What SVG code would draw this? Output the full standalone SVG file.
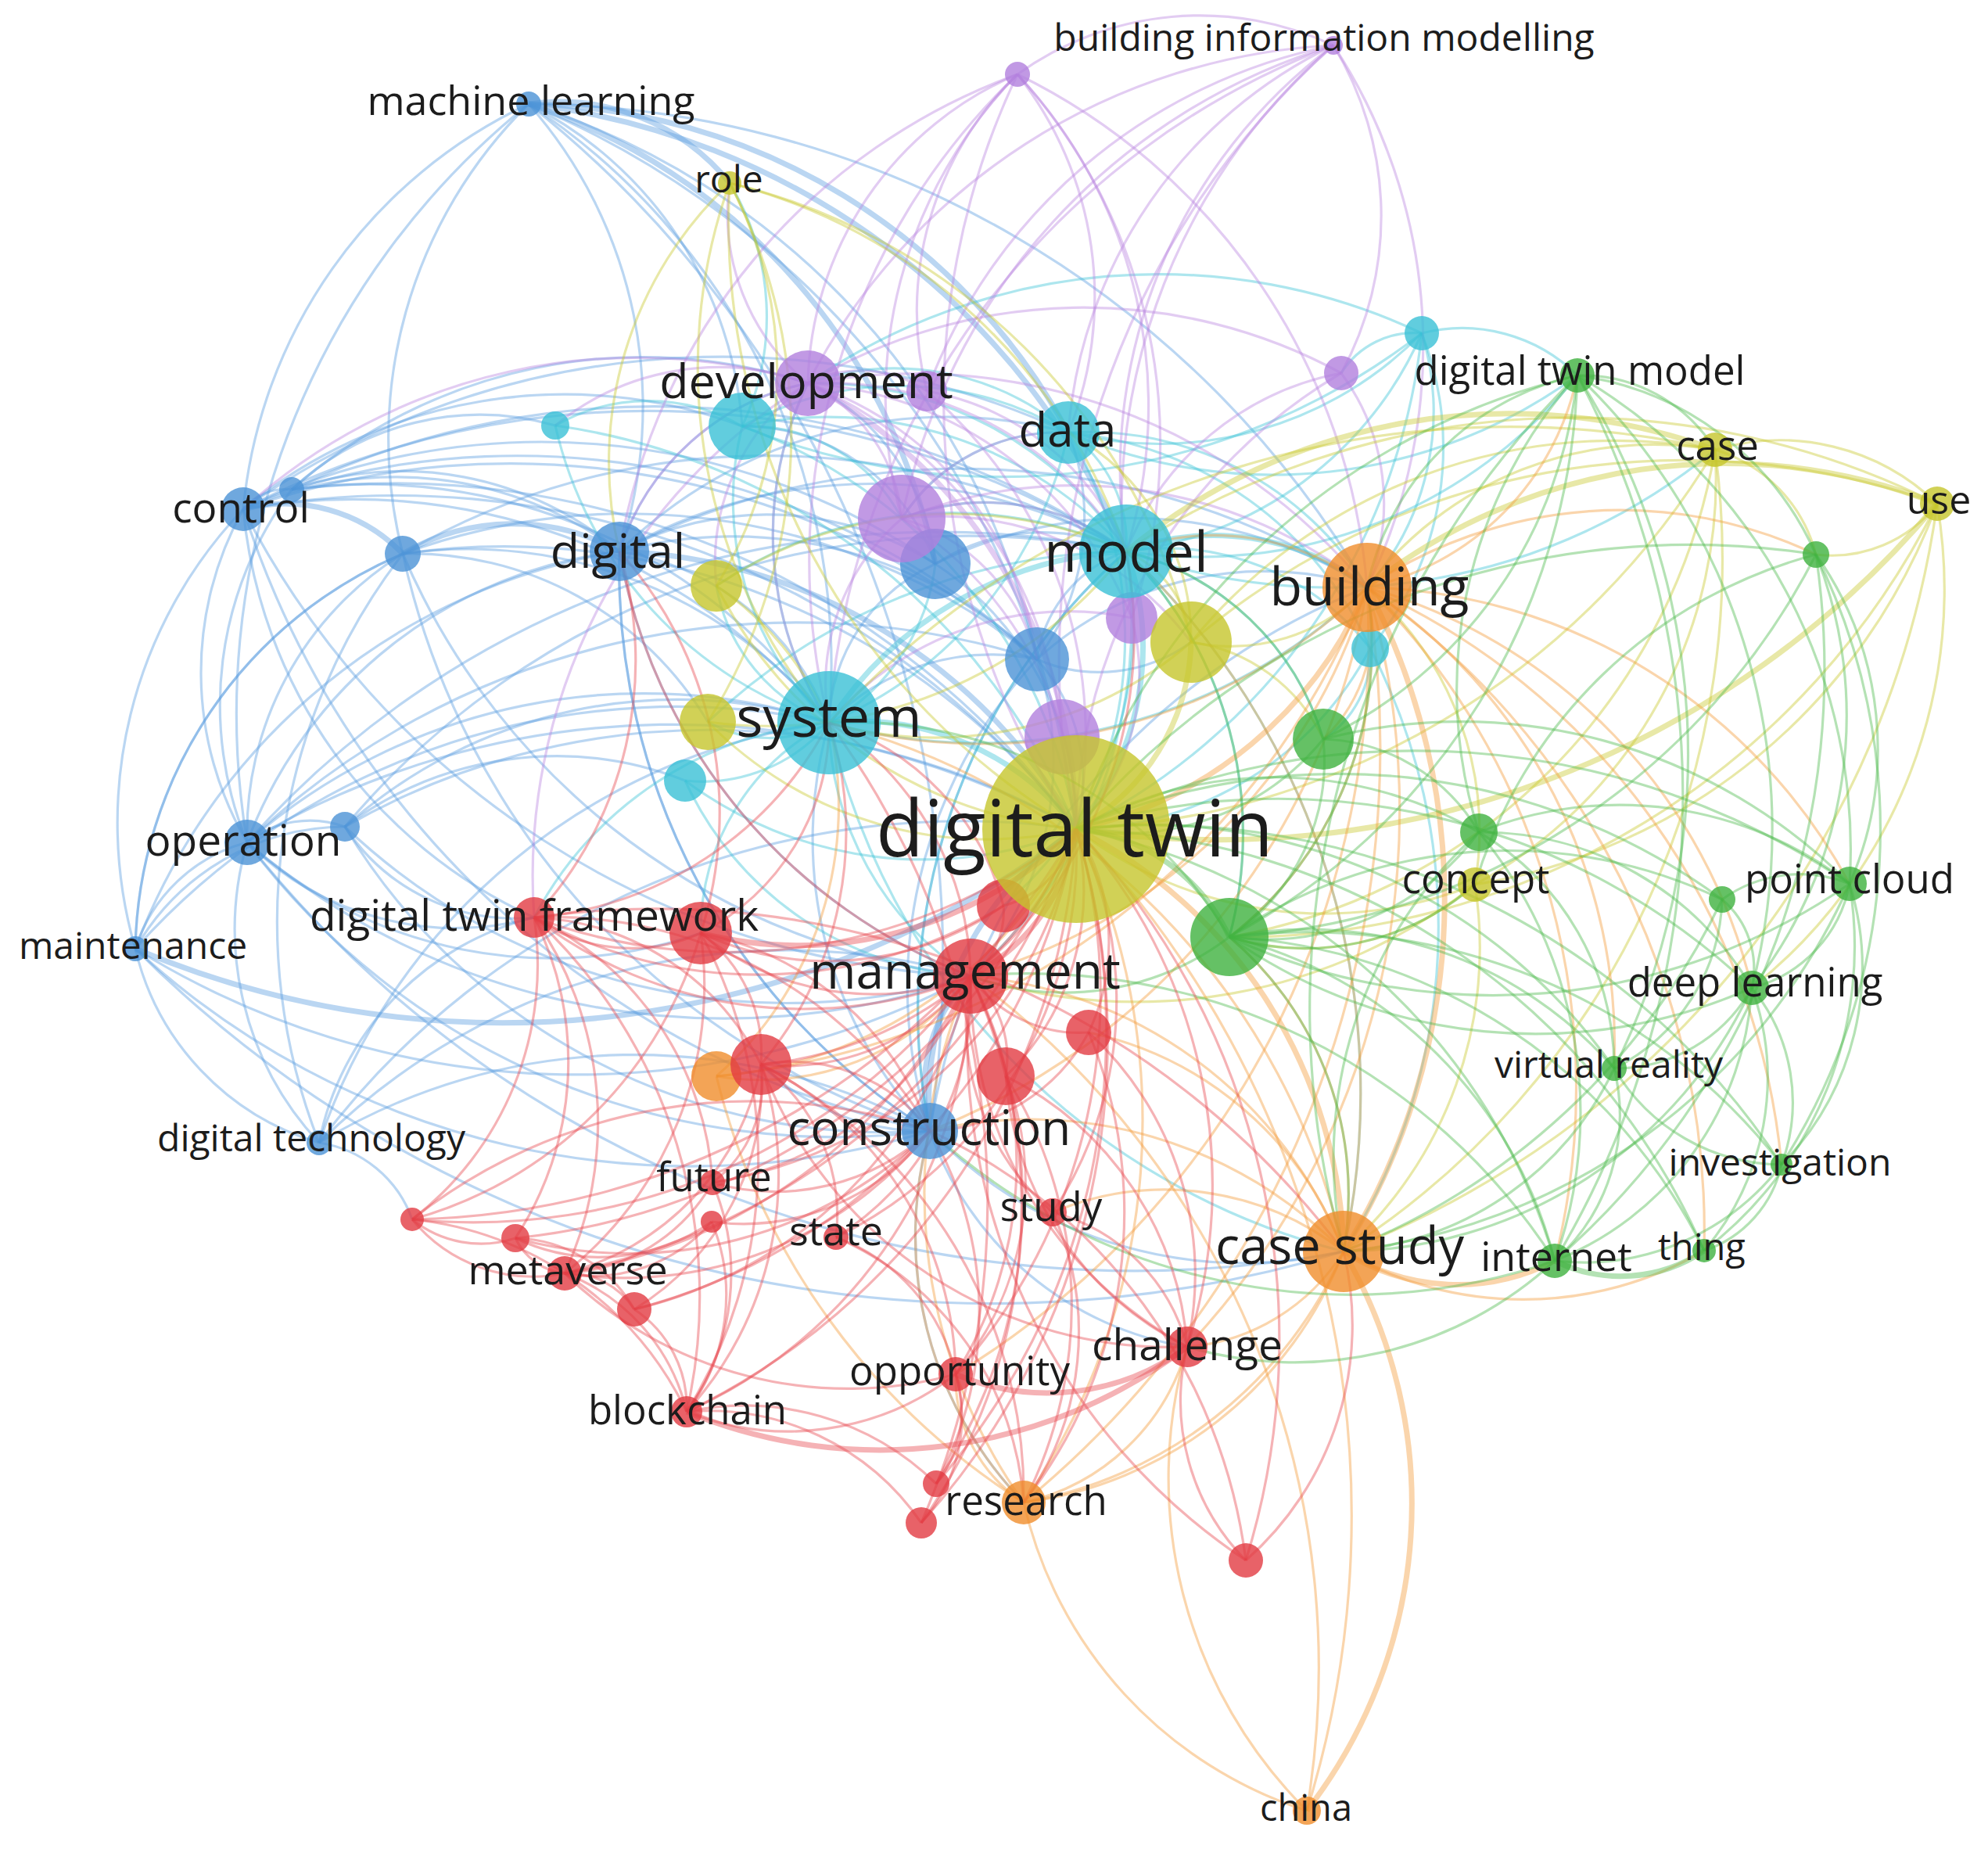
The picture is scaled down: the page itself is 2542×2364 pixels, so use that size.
<svg xmlns="http://www.w3.org/2000/svg" width="2542" height="2364" viewBox="0 0 2542 2364">
<style>
.e path{fill:none;stroke-width:3.2;stroke-opacity:.42}
.e path.t{stroke-width:7}
.er{stroke:#e8474f}.eg{stroke:#4cbb4c}.eb{stroke:#5b9de0}.ey{stroke:#c9c92e}.ep{stroke:#b986e0}.ec{stroke:#3bc3d6}.eo{stroke:#f39a3a}
.n circle{fill-opacity:.8}
.R{fill:#e23b42}.G{fill:#3fb13f}.B{fill:#4b92d6}.Y{fill:#c6c62c}.P{fill:#b27fdd}.C{fill:#3ac0d6}.O{fill:#f08d2c}
text{font-family:"Open Sans","Liberation Sans",sans-serif;fill:#1c1c1c;text-anchor:middle}
</style>
<rect width="2542" height="2364" fill="#fff"/>
<g id="connectors" class="e">
<g class="eb">
<path d="M676 133A585 585 0 0 1 792 705"/><path d="M676 133A600 600 0 0 0 515 708"/><path d="M676 133A640 640 0 0 0 311 651"/><path d="M676 133A1000 1000 0 0 0 316 1077"/><path class="t" d="M676 133A950 950 0 0 1 1440 705"/><path d="M676 133A1150 1150 0 0 1 1376 1060"/><path class="t" d="M676 133A780 780 0 0 1 1196 721"/><path d="M676 133A860 860 0 0 1 1060 924"/><path d="M676 133A960 960 0 0 1 1326 843"/><path class="t" d="M676 133A800 800 0 0 1 1366 553"/><path d="M676 133A1250 1250 0 0 1 1748 751"/><path class="t" d="M676 133A280 280 0 0 1 933 234"/><path d="M676 133A1400 1400 0 0 1 1189 1446"/><path d="M676 133A500 500 0 0 1 949 545"/>
<path d="M311 651A70 70 0 0 1 373 626"/><path d="M311 651A480 480 0 0 1 792 705"/><path class="t" d="M311 651A210 210 0 0 1 515 708"/><path d="M311 651A1100 1100 0 0 1 1376 1060"/><path d="M311 651A1130 1130 0 0 1 1440 705"/><path d="M311 651A790 790 0 0 1 1060 924"/><path d="M311 651A430 430 0 0 0 316 1077"/><path d="M311 651A580 580 0 0 0 173 1213"/><path d="M311 651A1030 1030 0 0 1 1326 843"/><path d="M311 651A890 890 0 0 1 1196 721"/><path d="M311 651A1180 1180 0 0 0 1189 1446"/><path d="M311 651A1060 1060 0 0 1 1366 553"/><path d="M311 651A640 640 0 0 0 683 1173"/><path d="M311 651A650 650 0 0 1 949 545"/><path d="M311 651A1100 1100 0 0 0 1241 1248"/>
<path d="M373 626A430 430 0 0 1 792 705"/><path d="M373 626A720 720 0 0 1 1060 924"/><path d="M373 626A1080 1080 0 0 1 1376 1060"/><path d="M373 626A1070 1070 0 0 1 1440 705"/><path d="M373 626A350 350 0 0 1 710 544"/><path d="M373 626A460 460 0 0 0 316 1077"/><path d="M373 626A980 980 0 0 1 1326 843"/><path d="M373 626A680 680 0 0 1 1033 490"/>
<path class="t" d="M515 708A280 280 0 0 1 792 705"/><path d="M515 708A590 590 0 0 1 1060 924"/><path d="M515 708A920 920 0 0 1 1376 1060"/><path d="M515 708A925 925 0 0 1 1440 705"/><path d="M515 708A420 420 0 0 0 316 1077"/><path d="M515 708A1000 1000 0 0 0 1189 1446"/><path d="M515 708A440 440 0 0 1 905 923"/><path d="M515 708A830 830 0 0 1 1326 843"/><path d="M515 708A900 900 0 0 0 1241 1248"/><path d="M515 708A560 560 0 0 0 173 1213"/><path d="M515 708A770 770 0 0 0 408 1461"/>
<path class="t" d="M792 705A700 700 0 0 1 1376 1060"/><path d="M792 705A650 650 0 0 1 1440 705"/><path d="M792 705A340 340 0 0 1 1060 924"/><path d="M792 705A400 400 0 0 1 1196 721"/><path d="M792 705A560 560 0 0 1 1326 843"/><path d="M792 705A850 850 0 0 0 1189 1446"/><path d="M792 705A320 320 0 0 1 1033 490"/><path d="M792 705A600 600 0 0 1 1366 553"/><path d="M792 705A715 715 0 0 0 1241 1248"/><path d="M792 705A960 960 0 0 1 1748 751"/><path d="M792 705A580 580 0 0 0 316 1077"/>
<path d="M316 1077A130 130 0 0 1 441 1057"/><path d="M316 1077A205 205 0 0 0 173 1213"/><path d="M316 1077A1060 1060 0 0 1 1376 1060"/><path d="M316 1077A770 770 0 0 1 1060 924"/><path d="M316 1077A1180 1180 0 0 1 1440 705"/><path d="M316 1077A940 940 0 0 0 1189 1446"/><path d="M316 1077A380 380 0 0 0 683 1173"/><path d="M316 1077A940 940 0 0 0 1241 1248"/><path d="M316 1077A1020 1020 0 0 1 1326 843"/><path d="M316 1077A400 400 0 0 0 408 1461"/><path d="M316 1077A585 585 0 0 0 896 1193"/><path d="M316 1077A1450 1450 0 0 0 1718 1600"/>
<path d="M441 1057A935 935 0 0 1 1376 1060"/><path d="M441 1057A640 640 0 0 1 1060 924"/><path d="M441 1057A1040 1040 0 0 1 1440 705"/><path d="M441 1057A820 820 0 0 0 1241 1248"/><path d="M441 1057A810 810 0 0 0 1189 1446"/><path d="M441 1057A450 450 0 0 1 876 998"/><path d="M441 1057A260 260 0 0 0 683 1173"/>
<path d="M173 1213A310 310 0 0 1 441 1057"/><path class="t" d="M173 1213A1210 1210 0 0 0 1376 1060"/><path d="M173 1213A1050 1050 0 0 0 1189 1446"/><path d="M173 1213A340 340 0 0 0 408 1461"/><path d="M173 1213A930 930 0 0 1 1060 924"/><path d="M173 1213A800 800 0 0 1 792 705"/><path d="M173 1213A560 560 0 0 1 515 708"/><path d="M173 1213A1070 1070 0 0 0 1241 1248"/><path d="M173 1213A1550 1550 0 0 0 1718 1600"/>
<path d="M408 1461A780 780 0 0 1 1189 1446"/><path d="M408 1461A1030 1030 0 0 1 1376 1060"/><path d="M408 1461A850 850 0 0 1 1241 1248"/><path d="M408 1461A800 800 0 0 1 1060 924"/><path d="M408 1461A150 150 0 0 1 527 1559"/><path d="M408 1461A370 370 0 0 1 683 1173"/>
<path class="t" d="M1189 1446A420 420 0 0 1 1376 1060"/><path class="t" d="M1189 1446A205 205 0 0 1 1241 1248"/><path d="M1189 1446A540 540 0 0 1 1060 924"/><path d="M1189 1446A780 780 0 0 1 1440 705"/><path d="M1189 1446A900 900 0 0 1 1748 751"/><path d="M1189 1446A560 560 0 0 0 1718 1600"/><path d="M1189 1446A610 610 0 0 1 1326 843"/><path d="M1189 1446A420 420 0 0 0 1518 1722"/><path d="M1189 1446A490 490 0 0 0 1309 1921"/><path d="M1189 1446A300 300 0 0 1 973 1361"/><path d="M1189 1446A850 850 0 0 1 792 705"/>
<path d="M1326 843A230 230 0 0 1 1376 1060"/><path d="M1326 843A170 170 0 0 1 1440 705"/><path d="M1326 843A290 290 0 0 0 1060 924"/><path d="M1326 843A300 300 0 0 0 1366 553"/><path d="M1326 843A430 430 0 0 1 1748 751"/><path d="M1326 843A200 200 0 0 0 1523 821"/><path d="M1326 843A410 410 0 0 1 1241 1248"/>
<path d="M1196 721A400 400 0 0 1 1376 1060"/><path d="M1196 721A250 250 0 0 1 1440 705"/><path d="M1196 721A230 230 0 0 0 1060 924"/><path d="M1196 721A560 560 0 0 1 1748 751"/><path d="M1196 721A290 290 0 0 0 1033 490"/><path d="M1196 721A260 260 0 0 0 949 545"/>
</g>
<g class="ec">
<path class="t" d="M1440 705A360 360 0 0 1 1376 1060"/><path class="t" d="M1440 705A480 480 0 0 0 1060 924"/><path d="M1440 705A170 170 0 0 0 1366 553"/><path class="t" d="M1440 705A320 320 0 0 1 1748 751"/><path d="M1440 705A470 470 0 0 0 1033 490"/><path d="M1440 705A510 510 0 0 0 949 545"/><path d="M1440 705A470 470 0 0 0 1818 426"/><path d="M1440 705A330 330 0 0 1 1752 829"/><path d="M1440 705A600 600 0 0 1 1241 1248"/><path d="M1440 705A780 780 0 0 0 1189 1446"/><path d="M1440 705A950 950 0 0 1 1718 1600"/><path d="M1440 705A620 620 0 0 0 2017 480"/><path d="M1440 705A770 770 0 0 0 2193 575"/><path d="M1440 705A350 350 0 0 1 1692 945"/><path d="M1440 705A510 510 0 0 1 1572 1198"/><path d="M1440 705A790 790 0 0 0 905 923"/><path d="M1440 705A290 290 0 0 0 1153 663"/><path d="M1440 705A530 530 0 0 0 916 749"/><path d="M1440 705A470 470 0 0 1 1283 1158"/>
<path class="t" d="M1060 924A350 350 0 0 1 1376 1060"/><path d="M1060 924A520 520 0 0 0 1366 553"/><path d="M1060 924A390 390 0 0 1 949 545"/><path d="M1060 924A210 210 0 0 1 876 998"/><path d="M1060 924A520 520 0 0 1 710 544"/><path d="M1060 924A440 440 0 0 1 1033 490"/><path d="M1060 924A390 390 0 0 0 1241 1248"/><path d="M1060 924A720 720 0 0 0 1748 751"/><path d="M1060 924A900 900 0 0 0 1718 1600"/><path d="M1060 924A160 160 0 0 1 905 923"/><path d="M1060 924A270 270 0 0 0 1196 721"/><path d="M1060 924A230 230 0 0 1 916 749"/><path d="M1060 924A300 300 0 0 0 896 1193"/><path d="M1060 924A470 470 0 0 0 683 1173"/>
<path d="M1366 553A510 510 0 0 1 1376 1060"/><path d="M1366 553A470 470 0 0 0 1818 426"/><path d="M1366 553A420 420 0 0 1 1748 751"/><path d="M1366 553A340 340 0 0 0 1033 490"/><path d="M1366 553A420 420 0 0 0 949 545"/><path d="M1366 553A470 470 0 0 1 1752 829"/><path d="M1366 553A660 660 0 0 0 2017 480"/><path d="M1366 553A240 240 0 0 0 1153 663"/>
<path d="M949 545A660 660 0 0 1 1376 1060"/><path d="M949 545A240 240 0 0 0 710 544"/><path d="M949 545A880 880 0 0 0 1818 426"/><path d="M949 545A330 330 0 0 0 933 234"/><path d="M710 544A850 850 0 0 1 1376 1060"/><path d="M949 545A220 220 0 0 1 1153 663"/>
<path d="M1818 426A800 800 0 0 1 1376 1060"/><path d="M1818 426A340 340 0 0 1 1748 751"/><path d="M1818 426A400 400 0 0 1 1752 829"/><path d="M1818 426A210 210 0 0 1 2017 480"/><path d="M1818 426A790 790 0 0 0 1033 490"/><path d="M1818 426A110 110 0 0 0 1715 477"/>
<path d="M1752 829A430 430 0 0 1 1376 1060"/><path d="M1752 829A770 770 0 0 1 1718 1600"/><path d="M1752 829A130 130 0 0 1 1692 945"/><path d="M876 998A510 510 0 0 0 1376 1060"/><path d="M876 998A430 430 0 0 0 1241 1248"/>
</g>
<g class="ep">
<path d="M1301 95A440 440 0 0 0 1033 490"/><path d="M1301 95A420 420 0 0 0 1185 500"/><path d="M1301 95A590 590 0 0 0 1153 663"/><path d="M1301 95A460 460 0 0 1 1366 553"/><path d="M1301 95A620 620 0 0 1 1440 705"/><path d="M1301 95A970 970 0 0 0 1376 1060"/><path d="M1301 95A860 860 0 0 0 1060 924"/><path d="M1301 95A800 800 0 0 1 1748 751"/><path d="M1301 95A700 700 0 0 1 1447 790"/><path d="M1301 95A790 790 0 0 0 792 705"/>
<path d="M1705 58A400 400 0 0 0 1301 95"/><path d="M1705 58A800 800 0 0 0 1033 490"/><path d="M1705 58A700 700 0 0 0 1185 500"/><path d="M1705 58A1060 1060 0 0 0 1376 1060"/><path d="M1705 58A680 680 0 0 0 1440 705"/><path d="M1705 58A420 420 0 0 1 1715 477"/><path d="M1705 58A700 700 0 0 1 1748 751"/><path d="M1705 58A600 600 0 0 0 1366 553"/><path d="M1705 58A800 800 0 0 0 1153 663"/><path d="M1705 58A1000 1000 0 0 0 1060 924"/><path d="M1705 58A780 780 0 0 0 1447 790"/>
<path class="t" d="M1033 490A650 650 0 0 1 1376 1060"/><path d="M1033 490A450 450 0 0 1 1440 705"/><path d="M1033 490A440 440 0 0 0 1060 924"/><path d="M1033 490A210 210 0 0 1 1153 663"/><path d="M1033 490A150 150 0 0 1 1185 500"/><path d="M1033 490A750 750 0 0 1 1748 751"/><path d="M1033 490A280 280 0 0 1 933 234"/><path d="M1033 490A480 480 0 0 1 1447 790"/><path d="M1033 490A540 540 0 0 1 1358 942"/><path d="M1033 490A320 320 0 0 0 792 705"/><path d="M1033 490A750 750 0 0 0 311 651"/><path d="M1033 490A740 740 0 0 0 683 1173"/><path d="M1033 490A330 330 0 0 0 710 544"/><path d="M1033 490A280 280 0 0 0 916 749"/><path d="M1033 490A430 430 0 0 1 1326 843"/>
<path d="M1153 663A470 470 0 0 1 1376 1060"/><path d="M1153 663A290 290 0 0 1 1440 705"/><path d="M1153 663A280 280 0 0 0 1060 924"/><path d="M1153 663A240 240 0 0 1 1366 553"/><path d="M1153 663A600 600 0 0 1 1748 751"/><path d="M1153 663A250 250 0 0 1 1326 843"/><path d="M1153 663A400 400 0 0 1 1523 821"/><path d="M1185 500A580 580 0 0 1 1376 1060"/><path d="M1185 500A340 340 0 0 1 1440 705"/>
<path d="M1715 477A690 690 0 0 0 1376 1060"/><path d="M1715 477A370 370 0 0 0 1440 705"/><path d="M1715 477A280 280 0 0 1 1748 751"/><path d="M1715 477A690 690 0 0 0 1033 490"/><path d="M1447 790A280 280 0 0 1 1376 1060"/><path d="M1447 790A400 400 0 0 0 1060 924"/>
</g>
<g class="ey">
<path class="t" d="M1376 1060A280 280 0 0 0 1523 821"/><path d="M1376 1060A500 500 0 0 1 905 923"/><path d="M1376 1060A570 570 0 0 1 916 749"/><path d="M1376 1060A1000 1000 0 0 0 2193 575"/><path class="t" d="M1376 1060A1200 1200 0 0 0 2477 644"/><path d="M1376 1060A900 900 0 0 1 933 234"/><path d="M1376 1060A520 520 0 0 0 1886 1131"/>
<path d="M933 234A515 515 0 0 1 916 749"/><path d="M933 234A690 690 0 0 1 905 923"/><path d="M933 234A720 720 0 0 1 1440 705"/><path d="M933 234A800 800 0 0 1 1523 821"/><path d="M933 234A490 490 0 0 0 792 705"/><path d="M933 234A700 700 0 0 0 1060 924"/>
<path d="M2193 575A460 460 0 0 0 1748 751"/><path d="M2193 575A700 700 0 0 0 1523 821"/><path d="M2193 575A290 290 0 0 1 2477 644"/><path class="t" d="M2193 575A770 770 0 0 0 1440 705"/><path d="M2193 575A590 590 0 0 1 1886 1131"/><path d="M2193 575A190 190 0 0 1 2322 709"/><path d="M2193 575A1190 1190 0 0 0 1060 924"/><path d="M2193 575A760 760 0 0 1 1572 1198"/><path d="M2193 575A1050 1050 0 0 1 1718 1600"/>
<path class="t" d="M2477 644A740 740 0 0 0 1748 751"/><path d="M2477 644A970 970 0 0 0 1523 821"/><path d="M2477 644A170 170 0 0 1 2322 709"/><path d="M2477 644A760 760 0 0 1 1886 1131"/><path d="M2477 644A1040 1040 0 0 0 1440 705"/><path d="M2477 644A1000 1000 0 0 1 1572 1198"/><path d="M2477 644A650 650 0 0 1 2240 1263"/><path d="M2477 644A1200 1200 0 0 1 1718 1600"/>
<path d="M1523 821A240 240 0 0 0 1748 751"/><path d="M1523 821A140 140 0 0 0 1440 705"/><path d="M1523 821A500 500 0 0 1 1060 924"/><path d="M916 749A400 400 0 0 1 1060 924"/><path d="M916 749A540 540 0 0 1 1440 705"/><path d="M1523 821A300 300 0 0 0 1366 553"/><path d="M1523 821A220 220 0 0 1 1692 945"/><path d="M905 923A580 580 0 0 0 1440 705"/>
<path d="M1886 1131A410 410 0 0 0 1748 751"/><path d="M1886 1131A330 330 0 0 1 1572 1198"/><path d="M1886 1131A520 520 0 0 1 1718 1600"/><path d="M1886 1131A700 700 0 0 1 1241 1248"/>
</g>
<g class="eo">
<path class="t" d="M1748 751A520 520 0 0 1 1376 1060"/><path class="t" d="M1748 751A850 850 0 0 1 1718 1600"/><path d="M1748 751A320 320 0 0 0 1440 705"/><path d="M1748 751A710 710 0 0 1 1060 924"/><path d="M1748 751A730 730 0 0 1 1241 1248"/><path d="M1748 751A900 900 0 0 1 1189 1446"/><path d="M1748 751A200 200 0 0 1 1692 945"/><path d="M1748 751A1000 1000 0 0 1 916 1376"/><path d="M1748 751A1000 1000 0 0 1 1518 1722"/><path d="M1748 751A1250 1250 0 0 1 1309 1921"/><path d="M1748 751A470 470 0 0 1 1572 1198"/><path d="M1748 751A350 350 0 0 0 2017 480"/><path d="M1748 751A1100 1100 0 0 1 1222 1757"/>
<path d="M1748 751A900 900 0 0 1 1988 1612"/><path d="M1748 751A1000 1000 0 0 1 2179 1599"/><path d="M1748 751A700 700 0 0 1 2240 1263"/><path d="M1748 751A720 720 0 0 1 2365 1130"/><path d="M1748 751A580 580 0 0 1 2322 709"/><path d="M1748 751A900 900 0 0 1 2278 1489"/><path d="M1748 751A700 700 0 0 1 2064 1366"/>
<path class="t" d="M1718 1600A620 620 0 0 0 1376 1060"/><path class="t" d="M1718 1600A640 640 0 0 1 1671 2315"/><path d="M1718 1600A560 560 0 0 0 1241 1248"/><path d="M1718 1600A560 560 0 0 0 1189 1446"/><path d="M1718 1600A260 260 0 0 1 1518 1722"/><path class="t" d="M1718 1600A270 270 0 0 0 1988 1612"/><path d="M1718 1600A460 460 0 0 0 2179 1599"/><path d="M1718 1600A550 550 0 0 1 1309 1921"/><path d="M1718 1600A430 430 0 0 0 1572 1198"/><path d="M1718 1600A900 900 0 0 0 1060 924"/><path d="M1718 1600A950 950 0 0 0 1440 705"/><path d="M1718 1600A370 370 0 0 0 1346 1550"/><path d="M1718 1600A450 450 0 0 0 1392 1320"/>
<path d="M1309 1921A540 540 0 0 0 1671 2315"/><path d="M1309 1921A860 860 0 0 0 1376 1060"/><path d="M1309 1921A510 510 0 0 0 1718 1600"/><path d="M1309 1921A490 490 0 0 1 1189 1446"/><path d="M1309 1921A190 190 0 0 1 1222 1757"/><path d="M1309 1921A280 280 0 0 0 1518 1722"/><path d="M1309 1921A680 680 0 0 1 1241 1248"/><path d="M1309 1921A900 900 0 0 1 916 1376"/>
<path d="M916 1376A560 560 0 0 0 1376 1060"/><path d="M916 1376A340 340 0 0 0 1241 1248"/><path d="M916 1376A460 460 0 0 0 1060 924"/>
<path d="M1671 2315A600 600 0 0 1 1518 1722"/><path d="M1671 2315A1270 1270 0 0 0 1376 1060"/><path d="M1671 2315A1100 1100 0 0 0 1241 1248"/>
</g>
<g class="eg">
<path class="t" d="M1572 1198A240 240 0 0 0 1376 1060"/><path d="M1572 1198A470 470 0 0 0 1748 751"/><path d="M1572 1198A510 510 0 0 0 1440 705"/><path d="M1572 1198A430 430 0 0 1 1718 1600"/><path d="M1572 1198A270 270 0 0 0 1692 945"/><path d="M1572 1198A330 330 0 0 0 1886 1131"/><path d="M1572 1198A680 680 0 0 0 2240 1263"/><path d="M1572 1198A800 800 0 0 0 2365 1130"/><path d="M1572 1198A570 570 0 0 1 1988 1612"/><path d="M1572 1198A520 520 0 0 1 2064 1366"/><path d="M1572 1198A720 720 0 0 1 2179 1599"/><path d="M1572 1198A340 340 0 0 0 1891 1064"/><path d="M1572 1198A770 770 0 0 1 2278 1489"/><path d="M1572 1198A840 840 0 0 0 2017 480"/><path d="M1572 1198A900 900 0 0 0 2322 709"/><path d="M1572 1198A350 350 0 0 1 1241 1248"/><path d="M1572 1198A560 560 0 0 0 1060 924"/>
<path d="M1692 945A330 330 0 0 1 1376 1060"/><path d="M1692 945A350 350 0 0 0 1440 705"/><path d="M1692 945A580 580 0 0 0 2017 480"/><path d="M1692 945A240 240 0 0 1 1891 1064"/><path d="M1692 945A700 700 0 0 1 2365 1130"/>
<path d="M2017 480A900 900 0 0 0 1376 1060"/><path d="M2017 480A350 350 0 0 0 1748 751"/><path d="M2017 480A390 390 0 0 1 2322 709"/><path d="M2017 480A800 800 0 0 1 2240 1263"/><path d="M2017 480A700 700 0 0 1 2365 1130"/><path d="M2017 480A600 600 0 0 0 1891 1064"/><path d="M2017 480A1150 1150 0 0 1 1988 1612"/><path d="M2017 480A900 900 0 0 1 2064 1366"/><path d="M2017 480A1130 1130 0 0 0 1718 1600"/><path d="M2017 480A200 200 0 0 1 2193 575"/>
<path d="M2322 709A1030 1030 0 0 0 1376 1060"/><path d="M2322 709A560 560 0 0 1 2240 1263"/><path d="M2322 709A430 430 0 0 1 2365 1130"/><path d="M2322 709A790 790 0 0 1 2278 1489"/><path d="M2322 709A620 620 0 0 0 1886 1131"/><path d="M2322 709A1000 1000 0 0 1 1988 1612"/>
<path d="M1891 1064A520 520 0 0 0 1376 1060"/><path d="M1891 1064A400 400 0 0 1 2240 1263"/><path d="M1891 1064A480 480 0 0 1 2365 1130"/><path d="M1891 1064A560 560 0 0 0 1718 1600"/><path d="M1891 1064A560 560 0 0 1 1988 1612"/><path d="M1891 1064A350 350 0 0 1 2064 1366"/>
<path d="M2365 1130A170 170 0 0 0 2202 1150"/><path d="M2365 1130A170 170 0 0 1 2240 1263"/><path d="M2365 1130A990 990 0 0 0 1376 1060"/><path d="M2365 1130A360 360 0 0 1 2278 1489"/><path d="M2365 1130A490 490 0 0 1 2179 1599"/><path d="M2365 1130A800 800 0 0 1 1718 1600"/>
<path d="M2202 1150A115 115 0 0 1 2240 1263"/><path d="M2202 1150A250 250 0 0 1 2064 1366"/><path d="M2202 1150A830 830 0 0 0 1376 1060"/><path d="M2202 1150A630 630 0 0 0 1572 1198"/><path d="M2202 1150A900 900 0 0 1 1718 1600"/>
<path d="M2240 1263A880 880 0 0 0 1376 1060"/><path d="M2240 1263A200 200 0 0 1 2064 1366"/><path d="M2240 1263A230 230 0 0 1 2278 1489"/><path d="M2240 1263A400 400 0 0 1 1988 1612"/><path d="M2240 1263A340 340 0 0 1 2179 1599"/><path d="M2240 1263A580 580 0 0 1 1718 1600"/>
<path d="M2064 1366A730 730 0 0 0 1376 1060"/><path d="M2064 1366A250 250 0 0 1 1988 1612"/><path d="M2064 1366A410 410 0 0 1 1718 1600"/><path d="M2064 1366A250 250 0 0 0 2278 1489"/>
<path d="M2278 1489A150 150 0 0 1 2179 1599"/><path d="M2278 1489A320 320 0 0 1 1988 1612"/><path d="M2278 1489A960 960 0 0 0 1376 1060"/>
<path class="t" d="M1988 1612A190 190 0 0 0 2179 1599"/><path d="M1988 1612A790 790 0 0 0 1376 1060"/><path d="M1988 1612A490 490 0 0 1 1518 1722"/><path d="M1988 1612A800 800 0 0 1 1189 1446"/><path d="M1988 1612A800 800 0 0 0 1241 1248"/><path d="M2179 1599A900 900 0 0 0 1376 1060"/>
</g>
<g class="er">
<path class="t" d="M1241 1248A250 250 0 0 0 1376 1060"/><path d="M1241 1248A390 390 0 0 0 1060 924"/><path d="M1241 1248A565 565 0 0 1 683 1173"/><path d="M1241 1248A350 350 0 0 1 896 1193"/><path d="M1241 1248A100 100 0 0 0 1283 1158"/><path d="M1241 1248A170 170 0 0 0 1392 1320"/><path d="M1241 1248A140 140 0 0 1 1286 1376"/><path d="M1241 1248A300 300 0 0 1 973 1361"/><path d="M1241 1248A530 530 0 0 0 1518 1722"/><path d="M1241 1248A510 510 0 0 1 1222 1757"/><path d="M1241 1248A610 610 0 0 1 878 1805"/><path d="M1241 1248A700 700 0 0 1 722 1628"/><path d="M1241 1248A430 430 0 0 1 911 1512"/><path d="M1241 1248A320 320 0 0 0 1346 1550"/><path d="M1241 1248A370 370 0 0 1 1069 1582"/><path d="M1241 1248A800 800 0 0 0 1593 1995"/><path d="M1241 1248A650 650 0 0 1 1197 1897"/><path d="M1241 1248A700 700 0 0 1 1178 1947"/><path d="M1241 1248A580 580 0 0 1 811 1674"/><path d="M1241 1248A800 800 0 0 1 527 1559"/><path d="M1241 1248A560 560 0 0 0 1440 705"/><path d="M1241 1248A715 715 0 0 1 792 705"/>
<path d="M1283 1158A130 130 0 0 0 1376 1060"/><path d="M1283 1158A330 330 0 0 0 1060 924"/><path d="M1283 1158A390 390 0 0 1 896 1193"/><path d="M1283 1158A600 600 0 0 1 683 1173"/>
<path class="t" d="M896 1193A500 500 0 0 0 1376 1060"/><path d="M896 1193A300 300 0 0 0 1060 924"/><path d="M896 1193A215 215 0 0 1 683 1173"/><path d="M896 1193A190 190 0 0 1 973 1361"/><path d="M896 1193A390 390 0 0 1 1189 1446"/><path d="M896 1193A470 470 0 0 1 722 1628"/><path d="M896 1193A610 610 0 0 1 878 1805"/><path d="M896 1193A530 530 0 0 1 527 1559"/><path d="M896 1193A500 500 0 0 0 792 705"/>
<path d="M683 1173A710 710 0 0 0 1376 1060"/><path d="M683 1173A470 470 0 0 0 1060 924"/><path d="M683 1173A410 410 0 0 1 527 1559"/><path d="M683 1173A410 410 0 0 1 659 1583"/><path d="M683 1173A460 460 0 0 1 722 1628"/><path d="M683 1173A340 340 0 0 1 973 1361"/><path d="M683 1173A560 560 0 0 1 1189 1446"/><path d="M683 1173A660 660 0 0 1 878 1805"/><path d="M683 1173A400 400 0 0 1 911 1512"/><path d="M683 1173A1100 1100 0 0 1 1718 1600"/><path d="M683 1173A480 480 0 0 0 792 705"/>
<path d="M973 1361A480 480 0 0 0 1376 1060"/><path d="M973 1361A340 340 0 0 1 722 1628"/><path d="M973 1361A340 340 0 0 1 811 1674"/><path d="M973 1361A220 220 0 0 1 1189 1446"/><path d="M973 1361A450 450 0 0 1 878 1805"/><path d="M973 1361A160 160 0 0 1 911 1512"/><path d="M973 1361A240 240 0 0 1 1069 1582"/><path d="M973 1361A450 450 0 0 1 1222 1757"/><path d="M973 1361A620 620 0 0 1 1309 1921"/><path d="M973 1361A560 560 0 0 0 1518 1722"/><path d="M973 1361A460 460 0 0 0 1060 924"/>
<path d="M1392 1320A270 270 0 0 0 1376 1060"/><path d="M1392 1320A420 420 0 0 1 1518 1722"/><path d="M1392 1320A600 600 0 0 1 1309 1921"/><path d="M1392 1320A240 240 0 0 1 1189 1446"/>
<path d="M1286 1376A330 330 0 0 0 1376 1060"/><path d="M1286 1376A380 380 0 0 1 1222 1757"/><path d="M1286 1376A420 420 0 0 0 1518 1722"/><path d="M1286 1376A550 550 0 0 1 1309 1921"/>
<path d="M911 1512A560 560 0 0 0 1376 1060"/><path d="M911 1512A230 230 0 0 1 722 1628"/><path d="M911 1512A290 290 0 0 0 1189 1446"/><path d="M911 1512A300 300 0 0 1 878 1805"/>
<path d="M910 1562A200 200 0 0 1 722 1628"/><path d="M910 1562A250 250 0 0 1 659 1583"/><path d="M910 1562A245 245 0 0 1 878 1805"/><path d="M910 1562A300 300 0 0 0 1189 1446"/>
<path d="M1069 1582A550 550 0 0 0 1376 1060"/><path d="M1069 1582A240 240 0 0 1 1222 1757"/><path d="M1069 1582A400 400 0 0 1 1309 1921"/>
<path d="M1346 1550A490 490 0 0 0 1376 1060"/><path d="M1346 1550A240 240 0 0 1 1518 1722"/><path d="M1346 1550A370 370 0 0 1 1309 1921"/>
<path d="M1518 1722A680 680 0 0 0 1376 1060"/><path class="t" d="M1518 1722A300 300 0 0 1 1222 1757"/><path class="t" d="M1518 1722A650 650 0 0 1 878 1805"/><path d="M1518 1722A290 290 0 0 0 1593 1995"/><path d="M1518 1722A420 420 0 0 0 1286 1376"/>
<path d="M1222 1757A730 730 0 0 0 1376 1060"/><path d="M1222 1757A350 350 0 0 1 878 1805"/><path d="M1222 1757A150 150 0 0 1 1197 1897"/><path d="M1222 1757A200 200 0 0 1 1178 1947"/><path d="M1222 1757A520 520 0 0 1 722 1628"/>
<path d="M878 1805A250 250 0 0 0 722 1628"/><path d="M878 1805A150 150 0 0 0 811 1674"/><path d="M878 1805A880 880 0 0 0 1376 1060"/><path d="M878 1805A350 350 0 0 1 1197 1897"/><path d="M878 1805A330 330 0 0 1 1178 1947"/><path d="M878 1805A440 440 0 0 0 527 1559"/>
<path d="M1197 1897A880 880 0 0 0 1376 1060"/><path d="M1197 1897A460 460 0 0 0 1189 1446"/><path d="M1178 1947A920 920 0 0 0 1376 1060"/><path d="M1178 1947A1030 1030 0 0 0 1060 924"/>
<path d="M1593 1995A950 950 0 0 0 1376 1060"/><path d="M1593 1995A400 400 0 0 0 1718 1600"/><path d="M1593 1995A700 700 0 0 0 1189 1446"/>
<path d="M722 1628A80 80 0 0 1 659 1583"/><path d="M722 1628A100 100 0 0 1 811 1674"/><path d="M722 1628A200 200 0 0 1 527 1559"/><path d="M722 1628A870 870 0 0 0 1376 1060"/><path d="M722 1628A500 500 0 0 0 1189 1446"/>
<path d="M527 1559A140 140 0 0 0 659 1583"/><path d="M527 1559A1000 1000 0 0 0 1376 1060"/><path d="M527 1559A700 700 0 0 1 1189 1446"/>
<path d="M659 1583A180 180 0 0 1 811 1674"/><path d="M659 1583A550 550 0 0 0 1189 1446"/><path d="M659 1583A880 880 0 0 0 1376 1060"/><path d="M811 1674A770 770 0 0 0 1376 1060"/>
</g>
</g>
<g id="nodes" class="n">
<g id="n-cyD"><circle class="C" cx="949" cy="545" r="43"/></g>
<g id="n-puD"><circle class="P" cx="1185" cy="500" r="26"/></g>
<g id="n-blC"><circle class="B" cx="1196" cy="721" r="45"/></g>
<g id="n-puB"><circle class="P" cx="1153" cy="663" r="56"/></g>
<g id="n-yeD"><circle class="Y" cx="916" cy="749" r="33"/></g>
<g id="n-cyS"><circle class="C" cx="710" cy="544" r="18"/></g>
<g id="n-blS"><circle class="B" cx="515" cy="708" r="23"/></g>
<g id="n-blC2"><circle class="B" cx="373" cy="626" r="16"/></g>
<g id="n-puT"><circle class="P" cx="1301" cy="95" r="16"/></g>
<g id="n-cyT"><circle class="C" cx="1818" cy="426" r="22"/></g>
<g id="n-puR"><circle class="P" cx="1715" cy="477" r="22"/></g>
<g id="n-grU"><circle class="G" cx="2322" cy="709" r="17"/></g>
<g id="n-puM"><circle class="P" cx="1447" cy="790" r="33"/></g>
<g id="n-yeM"><circle class="Y" cx="1523" cy="821" r="52"/></g>
<g id="n-blM"><circle class="B" cx="1326" cy="843" r="41"/></g>
<g id="n-yeS"><circle class="Y" cx="905" cy="923" r="36"/></g>
<g id="n-cyL"><circle class="C" cx="876" cy="998" r="27"/></g>
<g id="n-puDT"><circle class="P" cx="1358" cy="942" r="48"/></g>
<g id="n-grR"><circle class="G" cx="1692" cy="945" r="39"/></g>
<g id="n-cyB"><circle class="C" cx="1752" cy="829" r="24"/></g>
<g id="n-grB"><circle class="G" cx="1572" cy="1198" r="50"/></g>
<g id="n-reU"><circle class="R" cx="1283" cy="1158" r="34"/></g>
<g id="n-reF"><circle class="R" cx="896" cy="1193" r="40"/></g>
<g id="n-reM"><circle class="R" cx="1392" cy="1320" r="29"/></g>
<g id="n-reM2"><circle class="R" cx="1286" cy="1376" r="37"/></g>
<g id="n-orL"><circle class="O" cx="916" cy="1376" r="32"/></g>
<g id="n-reL"><circle class="R" cx="973" cy="1361" r="39"/></g>
<g id="n-reF2"><circle class="R" cx="910" cy="1562" r="14"/></g>
<g id="n-reR1"><circle class="R" cx="1197" cy="1897" r="17"/></g>
<g id="n-reR2"><circle class="R" cx="1178" cy="1947" r="20"/></g>
<g id="n-reX"><circle class="R" cx="1593" cy="1995" r="22"/></g>
<g id="n-reM3"><circle class="R" cx="659" cy="1583" r="18"/></g>
<g id="n-reM4"><circle class="R" cx="811" cy="1674" r="22"/></g>
<g id="n-reD"><circle class="R" cx="527" cy="1559" r="15"/></g>
<g id="n-blO"><circle class="B" cx="441" cy="1057" r="19"/></g>
<g id="n-grC"><circle class="G" cx="1891" cy="1064" r="24"/></g>
<g id="n-grP"><circle class="G" cx="2202" cy="1150" r="17"/></g>
<g id="n-digital-twin"><circle class="Y" cx="1376" cy="1060" r="120"/><text x="1374" y="1095" font-size="100">digital twin</text></g>
<g id="n-model"><circle class="C" cx="1440" cy="705" r="60"/><text x="1440" y="731" font-size="71">model</text></g>
<g id="n-system"><circle class="C" cx="1060" cy="924" r="66"/><text x="1060" y="942" font-size="72">system</text></g>
<g id="n-building"><circle class="O" cx="1748" cy="751" r="57"/><text x="1751" y="774" font-size="68">building</text></g>
<g id="n-development"><circle class="P" cx="1033" cy="490" r="42"/><text x="1031" y="509" font-size="61">development</text></g>
<g id="n-data"><circle class="C" cx="1366" cy="553" r="40"/><text x="1365" y="571" font-size="60">data</text></g>
<g id="n-digital"><circle class="B" cx="792" cy="705" r="38"/><text x="790" y="726" font-size="61">digital</text></g>
<g id="n-control"><circle class="B" cx="311" cy="651" r="28"/><text x="308" y="668" font-size="53">control</text></g>
<g id="n-machine-learning"><circle class="B" cx="676" cy="133" r="16"/><text x="679" y="147" font-size="52">machine learning</text></g>
<g id="n-role"><circle class="Y" cx="933" cy="234" r="15"/><text x="932" y="246" font-size="48">role</text></g>
<g id="n-bim"><circle class="P" cx="1705" cy="58" r="12"/><text x="1693" y="65" font-size="48">building information modelling</text></g>
<g id="n-digital-twin-model"><circle class="G" cx="2017" cy="480" r="22"/><text x="2020" y="492" font-size="51">digital twin model</text></g>
<g id="n-case"><circle class="Y" cx="2193" cy="575" r="22"/><text x="2196" y="588" font-size="51">case</text></g>
<g id="n-use"><circle class="Y" cx="2477" cy="644" r="22"/><text x="2479" y="657" font-size="50">use</text></g>
<g id="n-management"><circle class="R" cx="1241" cy="1248" r="48"/><text x="1234" y="1264" font-size="64">management</text></g>
<g id="n-dtf"><circle class="R" cx="683" cy="1173" r="26"/><text x="683" y="1190" font-size="55">digital twin framework</text></g>
<g id="n-construction"><circle class="B" cx="1189" cy="1446" r="36"/><text x="1188" y="1464" font-size="62">construction</text></g>
<g id="n-future"><circle class="R" cx="911" cy="1512" r="16"/><text x="913" y="1523" font-size="51">future</text></g>
<g id="n-state"><circle class="R" cx="1069" cy="1582" r="16"/><text x="1069" y="1592" font-size="52">state</text></g>
<g id="n-study"><circle class="R" cx="1346" cy="1550" r="18"/><text x="1344" y="1561" font-size="51">study</text></g>
<g id="n-case-study"><circle class="O" cx="1718" cy="1600" r="52"/><text x="1713" y="1616" font-size="65">case study</text></g>
<g id="n-internet"><circle class="G" cx="1988" cy="1612" r="22"/><text x="1990" y="1625" font-size="52">internet</text></g>
<g id="n-thing"><circle class="G" cx="2179" cy="1599" r="15"/><text x="2176" y="1611" font-size="47">thing</text></g>
<g id="n-challenge"><circle class="R" cx="1518" cy="1722" r="26"/><text x="1518" y="1739" font-size="55">challenge</text></g>
<g id="n-opportunity"><circle class="R" cx="1222" cy="1757" r="22"/><text x="1227" y="1771" font-size="51">opportunity</text></g>
<g id="n-blockchain"><circle class="R" cx="878" cy="1805" r="20"/><text x="879" y="1821" font-size="51">blockchain</text></g>
<g id="n-research"><circle class="O" cx="1309" cy="1921" r="28"/><text x="1312" y="1937" font-size="51">research</text></g>
<g id="n-china"><circle class="O" cx="1671" cy="2315" r="18"/><text x="1670" y="2328" font-size="47">china</text></g>
<g id="n-metaverse"><circle class="R" cx="722" cy="1628" r="22"/><text x="726" y="1642" font-size="52">metaverse</text></g>
<g id="n-digital-technology"><circle class="B" cx="408" cy="1461" r="16"/><text x="398" y="1472" font-size="48">digital technology</text></g>
<g id="n-maintenance"><circle class="B" cx="173" cy="1213" r="16"/><text x="170" y="1226" font-size="48">maintenance</text></g>
<g id="n-operation"><circle class="B" cx="316" cy="1077" r="29"/><text x="311" y="1094" font-size="55">operation</text></g>
<g id="n-concept"><circle class="Y" cx="1886" cy="1131" r="22"/><text x="1887" y="1142" font-size="51">concept</text></g>
<g id="n-point-cloud"><circle class="G" cx="2365" cy="1130" r="22"/><text x="2365" y="1142" font-size="51">point cloud</text></g>
<g id="n-deep-learning"><circle class="G" cx="2240" cy="1263" r="22"/><text x="2244" y="1274" font-size="51">deep learning</text></g>
<g id="n-virtual-reality"><circle class="G" cx="2064" cy="1366" r="16"/><text x="2057" y="1378" font-size="48">virtual reality</text></g>
<g id="n-investigation"><circle class="G" cx="2278" cy="1489" r="14"/><text x="2276" y="1503" font-size="48">investigation</text></g>
</g>
</svg>
